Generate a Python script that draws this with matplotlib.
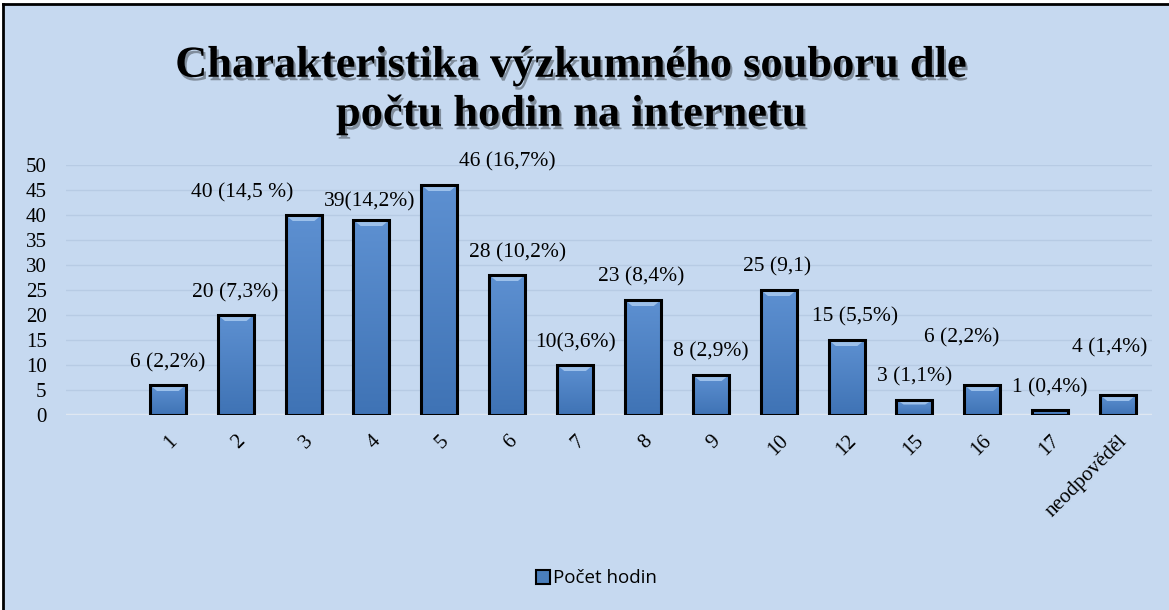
import matplotlib.pyplot as plt
import matplotlib.patheffects as pe
from matplotlib.colors import LinearSegmentedColormap
import numpy as np

# data
categories = ['', '1', '2', '3', '4', '5', '6', '7', '8', '9', '10', '12', '15', '16', '17', 'neodpověděl']
values = [0, 6, 20, 40, 39, 46, 28, 10, 23, 8, 25, 15, 3, 6, 1, 4]
labels = ['', '6 (2,2%)', '20 (7,3%)', '40 (14,5 %)', '39(14,2%)', '46 (16,7%)', '28 (10,2%)',
          '10(3,6%)', '23 (8,4%)', '8 (2,9%)', '25 (9,1)', '15 (5,5%)', '3 (1,1%)',
          '6 (2,2%)', '1 (0,4%)', '4 (1,4%)']
# where the original puts each data label (x shift in categories, y in data units)
label_dx = [0, 0, 0, -0.91, -0.03, 1.0, 0.16, 0, -0.03, 0, -0.03, 0.13, 0, -0.31, 0, -0.12]
label_y = [0, 10.4, 24.4, 44.4, 42.6, 50.6, 32.4, 14.4, 27.6, 12.6, 29.6, 19.6, 7.6, 15.4, 5.4, 13.4]
ticks_y = [0, 5, 10, 15, 20, 25, 30, 35, 40, 45, 50]

bg = '#c6d9f0'
blue = '#4a7ebb'
serif = 'Liberation Serif'

fig = plt.figure(figsize=(11.69, 6.10), dpi=100, facecolor='white')

# light blue chart area with black top / left border (right & bottom are cut off)
fig.add_artist(plt.Rectangle((3 / 1169, 0), 1, 1 - 4 / 610, transform=fig.transFigure,
                             facecolor=bg, edgecolor='none', zorder=0))
fig.add_artist(plt.Line2D([3 / 1169, 3 / 1169], [0, 1 - 4 / 610], transform=fig.transFigure,
                          color='black', linewidth=2))
fig.add_artist(plt.Line2D([3 / 1169, 1], [1 - 4 / 610, 1 - 4 / 610], transform=fig.transFigure,
                          color='black', linewidth=2))

ax = fig.add_axes([66 / 1169, 1 - 415 / 610, (1152 - 66) / 1169, 250 / 610])
ax.set_facecolor('none')

x = np.arange(len(categories))
bars = ax.bar(x, values, width=0.53, color=blue, edgecolor='none', zorder=3)

# vertical gradient + light bevel at the top of each bar
grad = np.linspace(0, 1, 100).reshape(-1, 1)
cmap = LinearSegmentedColormap.from_list('b', ['#3f73b5', '#5d90d1'])
for b in bars:
    h = b.get_height()
    if h <= 0:
        continue
    x0, w = b.get_x(), b.get_width()
    im = ax.imshow(grad, extent=[x0, x0 + w, 0, h], aspect='auto', cmap=cmap,
                   origin='lower', zorder=3.5)
    im.set_clip_path(b)
    bev = min(1.2, h * 0.3)
    top = plt.Polygon([[x0, h], [x0 + w, h], [x0 + w * 0.8, h - bev], [x0 + w * 0.2, h - bev]],
                      closed=True, facecolor='#9cc0ea', edgecolor='none', zorder=3.6)
    ax.add_patch(top)
    ax.add_patch(plt.Rectangle((x0, 0), w, h, fill=False, edgecolor='black', linewidth=2.2, zorder=4))

for i, lab in enumerate(labels):
    if lab:
        ax.text(x[i] + label_dx[i], label_y[i], lab, ha='center', va='center',
                family=serif, fontsize=15.5, color='black', clip_on=False)

ax.set_xlim(-0.5, len(categories) - 0.5)
ax.set_ylim(0, 50)
ax.set_yticks(ticks_y)
ax.set_yticklabels([str(t) for t in ticks_y], family=serif, fontsize=15)
ax.set_xticks(x[1:])
ax.set_xticklabels(categories[1:], family=serif, fontsize=15, rotation=45,
                   ha='right', va='top', rotation_mode='anchor')
ax.tick_params(axis='y', length=0, pad=14)
ax.tick_params(axis='x', length=0, pad=12)
ax.yaxis.grid(True, color='#b7cbe4', linewidth=1, zorder=0)
ax.axhline(0, color='#dfe7f1', linewidth=2.5, zorder=2)
for s in ax.spines.values():
    s.set_visible(False)

title = fig.text(0.489, 0.852, 'Charakteristika výzkumného souboru dle\npočtu hodin na internetu',
                 ha='center', va='center', family=serif, fontweight='bold',
                 fontsize=32, linespacing=1.25)
title.set_path_effects([pe.withSimplePatchShadow(offset=(1.5, -2.5), shadow_rgbFace='black', alpha=0.35)])

# legend
leg_handle = plt.Rectangle((0, 0), 1, 1, facecolor=blue, edgecolor='black', linewidth=1.5)
fig.legend([leg_handle], ['Počet hodin'], loc='center', bbox_to_anchor=(0.51, 0.052),
           frameon=False, prop={'family': 'Open Sans', 'size': 13.5}, handlelength=0.75,
           handleheight=0.75, handletextpad=0.15)

fig.savefig('out.png', dpi=100, facecolor='white')
